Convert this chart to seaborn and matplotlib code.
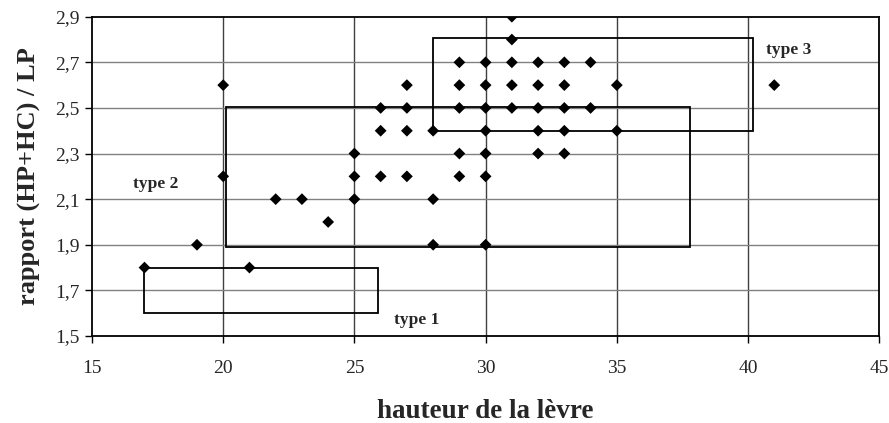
import matplotlib
matplotlib.use("Agg")
import matplotlib.pyplot as plt
from matplotlib.patches import Rectangle
from matplotlib.ticker import FuncFormatter
import seaborn as sns
import pandas as pd

# Data
hauteur = [17, 19, 20, 20, 21, 22, 23, 24, 25, 25, 25,
           26, 26, 26, 27, 27, 27, 27, 28, 28, 28,
           29, 29, 29, 29, 29,
           30, 30, 30, 30, 30, 30, 30,
           31, 31, 31, 31, 31,
           32, 32, 32, 32, 32,
           33, 33, 33, 33, 33,
           34, 34,
           35, 35,
           41]
rapport = [1.8, 1.9, 2.6, 2.2, 1.8, 2.1, 2.1, 2.0, 2.3, 2.2, 2.1,
           2.5, 2.4, 2.2, 2.6, 2.5, 2.4, 2.2, 2.4, 2.1, 1.9,
           2.7, 2.6, 2.5, 2.3, 2.2,
           2.7, 2.6, 2.5, 2.4, 2.3, 2.2, 1.9,
           2.9, 2.8, 2.7, 2.6, 2.5,
           2.7, 2.6, 2.5, 2.4, 2.3,
           2.7, 2.6, 2.5, 2.4, 2.3,
           2.7, 2.5,
           2.6, 2.4,
           2.6]

# Type zones (x0, x1, y0, y1) and their labels
zone_names = ["type 1", "type 2", "type 3"]
zone_x0 = [17.0, 20.1, 28.0]
zone_x1 = [25.9, 37.8, 40.2]
zone_y0 = [1.6, 1.89, 2.4]
zone_y1 = [1.8, 2.505, 2.805]
label_x = [26.5, 16.55, 40.7]
label_y = [1.57, 2.165, 2.755]

x_ticks = [15, 20, 25, 30, 35, 40, 45]
y_ticks = [1.5, 1.7, 1.9, 2.1, 2.3, 2.5, 2.7, 2.9]

sns.set_style("white")
plt.rcParams['font.family'] = ['Liberation Serif', 'DejaVu Serif']

fig = plt.figure(figsize=(8.89, 4.23), dpi=100)
ax = fig.add_axes([0.1035, 0.2057, 0.8855, 0.7548])

df = pd.DataFrame({"hauteur": hauteur, "rapport": rapport})

ax.set_xlim(15, 45)
ax.set_ylim(1.5, 2.9)
ax.set_xticks(x_ticks)
ax.set_yticks(y_ticks)
ax.yaxis.set_major_formatter(FuncFormatter(lambda v, p: f"{v:.1f}".replace(".", ",")))

for v in x_ticks[1:-1]:
    ax.axvline(v, color="#404040", lw=1.0, zorder=1)
for v in y_ticks[1:-1]:
    ax.axhline(v, color="#808080", lw=1.0, zorder=1)

for x0, x1, y0, y1 in zip(zone_x0, zone_x1, zone_y0, zone_y1):
    ax.add_patch(Rectangle((x0, y0), x1 - x0, y1 - y0, fill=False,
                           edgecolor="black", lw=1.3, zorder=2))

sns.scatterplot(data=df, x="hauteur", y="rapport", marker="D", s=36,
                color="black", edgecolor="none", ax=ax, zorder=3)

for name, lx, ly in zip(zone_names, label_x, label_y):
    ax.text(lx, ly, name, fontsize=12.5, fontweight="bold", ha="left", va="center")

for s in ax.spines.values():
    s.set_color("black")
    s.set_linewidth(1.3)

ax.tick_params(axis="both", direction="out", length=5, width=1, color="black",
               labelsize=14, bottom=True, left=True)
ax.tick_params(axis="y", pad=4)
ax.tick_params(axis="x", pad=12)

ax.set_xlabel("hauteur de la lèvre", fontsize=19.5, fontweight="bold", labelpad=16)
ax.set_ylabel("rapport (HP+HC) / LP", fontsize=19, fontweight="bold", labelpad=10)

fig.savefig("out.png", dpi=100)
